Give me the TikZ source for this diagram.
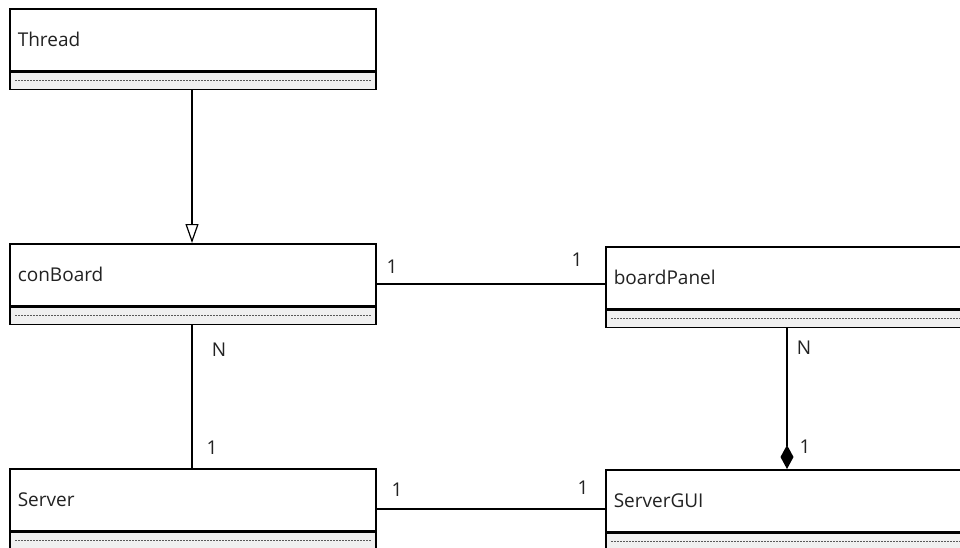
\documentclass[tikz,border=0pt]{standalone}
\usepackage{fontspec}
\setmainfont{Open Sans}
\usetikzlibrary{arrows.meta}
\definecolor{ink}{HTML}{222222}
\definecolor{compfill}{HTML}{F0F0F0}
\tikzset{
  classhdr/.style={draw=black, line width=1.6pt, fill=white, anchor=north west,
    text width=#1-16pt, align=left, inner xsep=8pt, inner ysep=0pt,
    minimum height=62pt, font=\fontsize{19}{22}\selectfont, text=ink},
  classcomp/.style={draw=black, line width=1.6pt, fill=compfill, anchor=north west,
    minimum width=#1, minimum height=17pt, inner sep=0pt},
  link/.style={line width=1.4pt, draw=black},
  mult/.style={font=\fontsize{19}{22}\selectfont, text=ink, inner sep=0pt},
  sepline/.style={draw=black!65, line width=1pt, dash pattern=on 2pt off 1pt},
}
\newcommand{\umlclass}[5]{%
  % #1 name, #2 x, #3 y, #4 width, #5 label
  \node[classhdr=#4] (#1) at (#2,#3) {#5};
  \node[classcomp=#4] (#1c) at (#1.south west) {};
  \draw[sepline] ([xshift=6pt]#1c.west) -- ([xshift=-6pt]#1c.east);
}
\begin{document}
\begin{tikzpicture}[x=1pt,y=-1pt]
  \useasboundingbox (0,0) rectangle (960,547);
  \clip (0,0) rectangle (960,547);

  % classes
  \umlclass{thread}{9}{8}{366pt}{Thread}
  \umlclass{conb}{9}{243}{366pt}{conBoard}
  \umlclass{bpanel}{605}{246}{420pt}{boardPanel}
  \umlclass{server}{9}{468}{366pt}{Server}
  \umlclass{sgui}{605}{469}{420pt}{ServerGUI}

  % routing coordinates
  \coordinate (colL) at (192,0);
  \coordinate (colR) at (787,0);
  \coordinate (rowA) at (0,284);
  \coordinate (rowB) at (0,509);

  % generalisation: conBoard extends Thread
  \draw[link, -{Triangle[open, length=19pt, width=13pt, line width=1.2pt]}]
    (threadc.south -| colL) -- (conb.north -| colL);

  % association conBoard -- boardPanel
  \draw[link] (conb.east |- rowA) -- (bpanel.west |- rowA);
  \node[mult] at (392,267) {1};
  \node[mult] at (577,260) {1};

  % association conBoard -- Server
  \draw[link] (conbc.south -| colL) -- (server.north -| colL);
  \node[mult] at (219,350) {N};
  \node[mult] at (212,448) {1};

  % association Server -- ServerGUI
  \draw[link] (server.east |- rowB) -- (sgui.west |- rowB);
  \node[mult] at (397,490) {1};
  \node[mult] at (583,488) {1};

  % composition boardPanel -- ServerGUI
  \draw[link, -{Diamond[length=24pt, width=13pt]}]
    (bpanelc.south -| colR) -- (sgui.north -| colR);
  \node[mult] at (804,348) {N};
  \node[mult] at (805,447) {1};
\end{tikzpicture}
\end{document}
